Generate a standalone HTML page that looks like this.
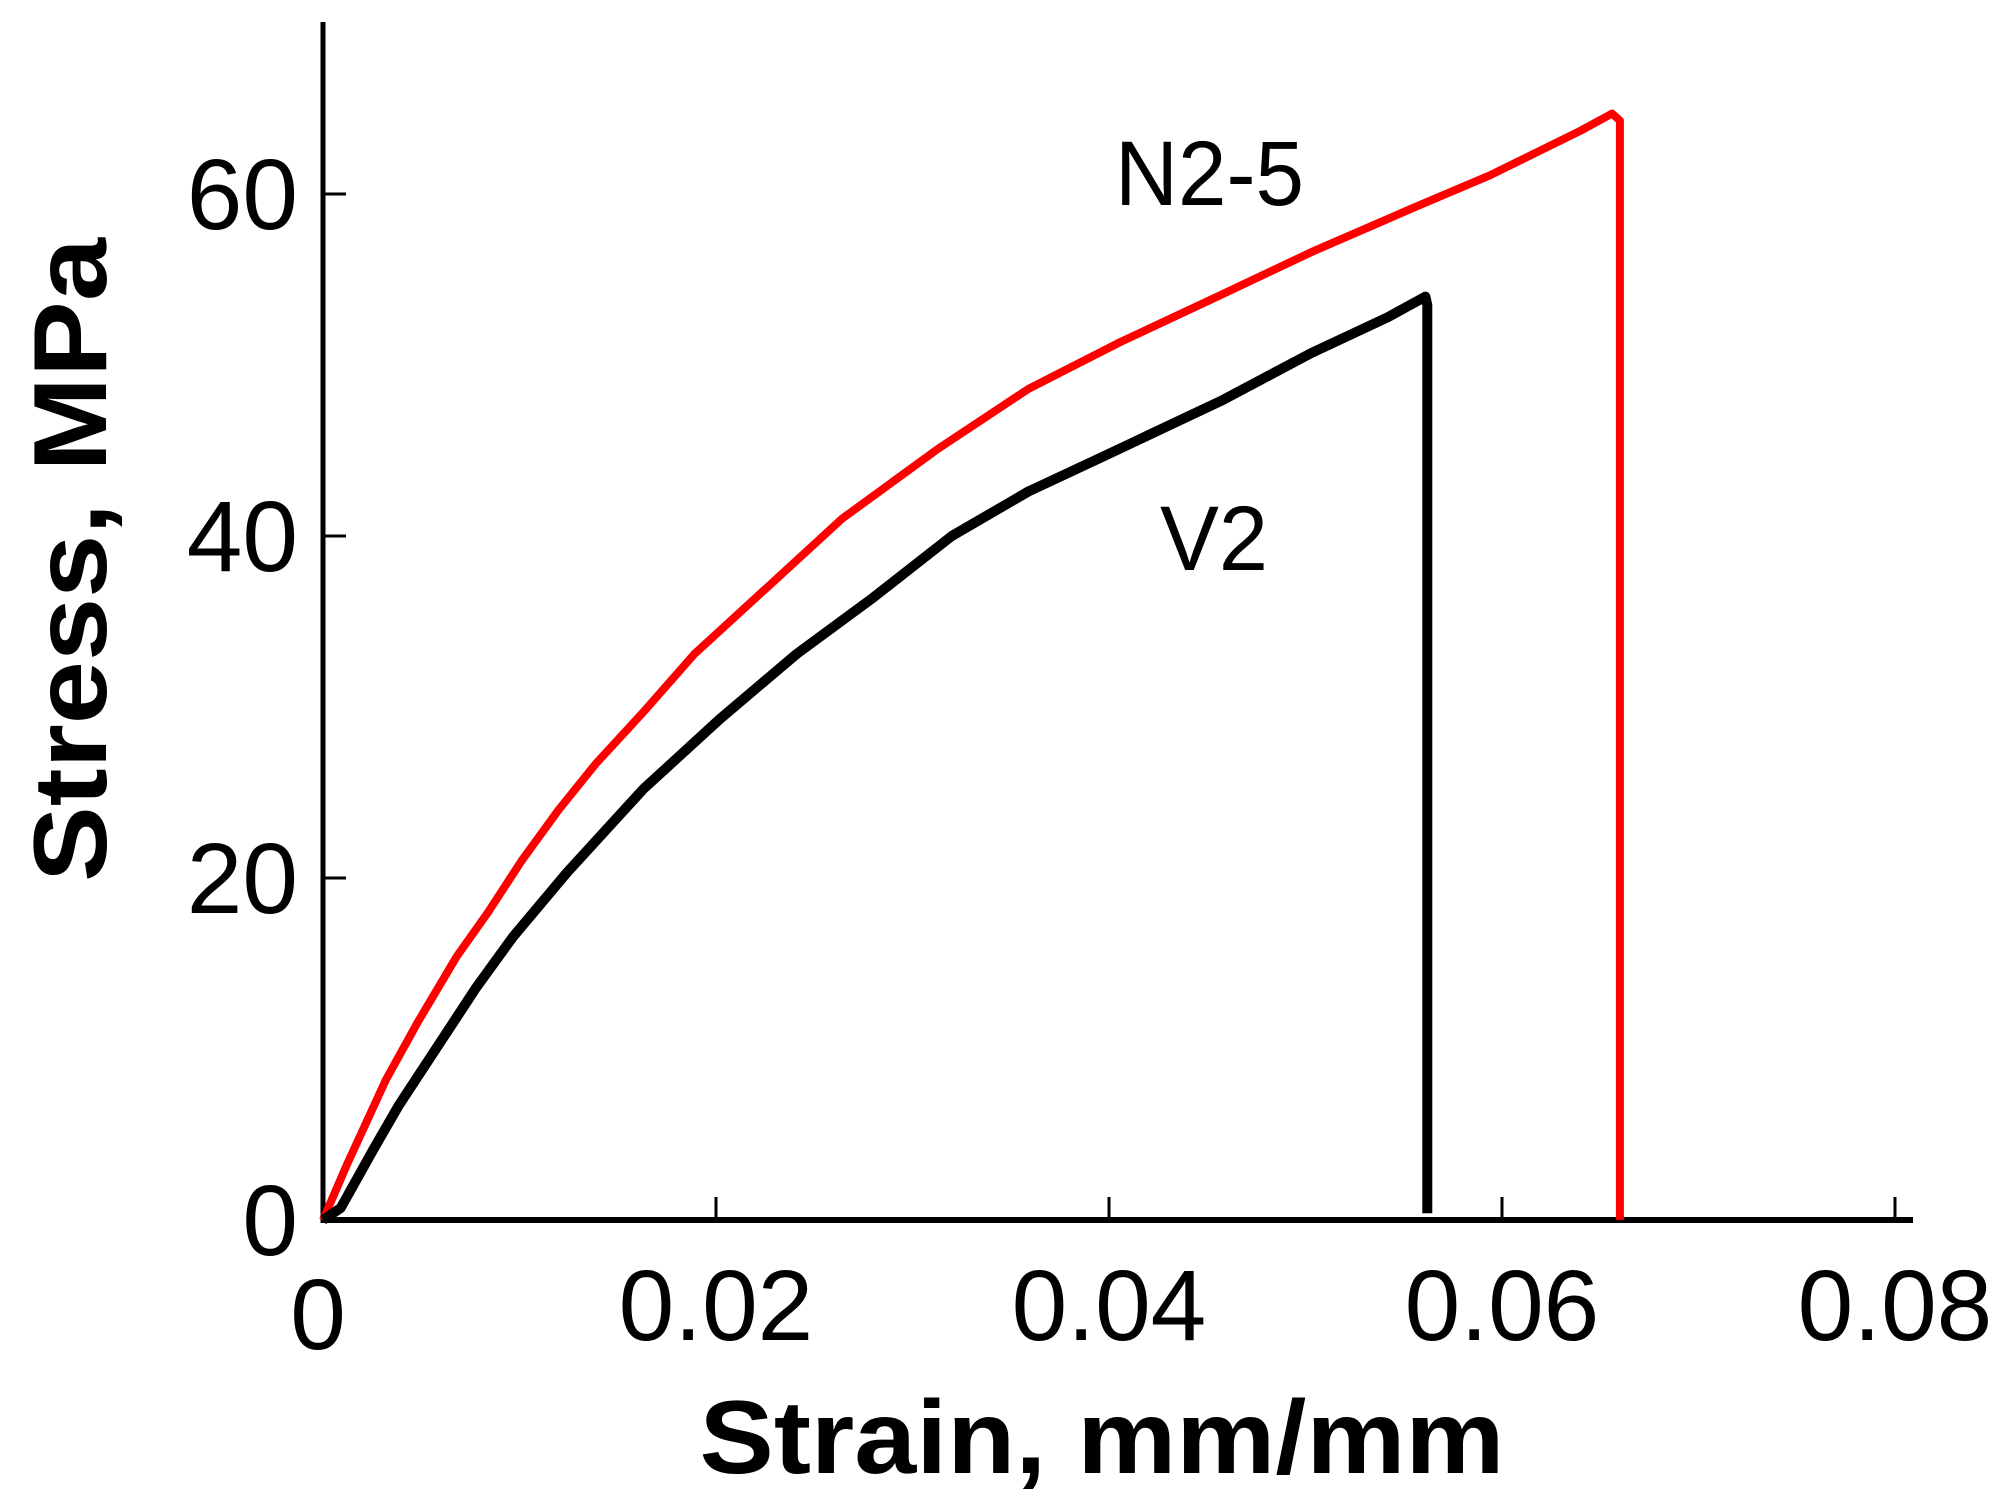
<!DOCTYPE html>
<html><head><meta charset="utf-8"><style>
html,body{margin:0;padding:0;background:#fff;}
svg{display:block;font-family:"Liberation Sans",Arial,sans-serif;}
</style></head><body>
<svg id="chart" width="2010" height="1495" viewBox="0 0 2010 1495">
<g id="axes"></g>
<g id="series"></g>
<text x="1115" y="205" font-size="92" textLength="189" lengthAdjust="spacingAndGlyphs">N2-5</text>
<text x="1160" y="570" font-size="92" textLength="108" lengthAdjust="spacingAndGlyphs">V2</text>
<text x="1102" y="1473" font-size="104" font-weight="bold" text-anchor="middle" textLength="805" lengthAdjust="spacingAndGlyphs">Strain, mm/mm</text>
<text transform="translate(106,560) rotate(-90)" font-size="104" font-weight="bold" text-anchor="middle" textLength="644" lengthAdjust="spacingAndGlyphs">Stress, MPa</text>
</svg>
<script>
const xTicks = [0, 0.02, 0.04, 0.06, 0.08];
const xTickLabels = ["0", "0.02", "0.04", "0.06", "0.08"];
const yTicks = [0, 20, 40, 60];
const yTickLabels = ["0", "20", "40", "60"];
const n25Strain = [0, 0.00124, 0.0032, 0.00484, 0.0068, 0.0084, 0.0101, 0.012, 0.0139, 0.0163, 0.0189, 0.0228, 0.0264, 0.0313, 0.0359, 0.0405, 0.0457, 0.0503, 0.0555, 0.0594, 0.064, 0.0656, 0.066, 0.066];
const n25Stress = [0, 3.3, 8.2, 11.6, 15.4, 18.0, 21.0, 24.0, 26.7, 29.7, 33.1, 37.2, 41.0, 45.1, 48.6, 51.3, 54.1, 56.6, 59.2, 61.1, 63.7, 64.7, 64.3, 0];
const v2Strain = [0, 0.0009, 0.00255, 0.00386, 0.0058, 0.0078, 0.0097, 0.0124, 0.0163, 0.0202, 0.0241, 0.028, 0.032, 0.0359, 0.0398, 0.0457, 0.0503, 0.0542, 0.0561, 0.0562, 0.0562];
const v2Stress = [0, 0.7, 4.1, 6.7, 10.1, 13.6, 16.6, 20.3, 25.2, 29.3, 33.1, 36.4, 40.0, 42.6, 44.7, 47.9, 50.7, 52.8, 54.0, 53.5, 0.4];

const X0 = 323, XS = 19650, Y0 = 1220, YS = 17.1;
function sx(v){ return X0 + v * XS; }
function sy(v){ return Y0 - v * YS; }
const NS = "http://www.w3.org/2000/svg";
const axes = document.getElementById('axes');
const series = document.getElementById('series');
function mk(tag, attrs, parent){
  const e = document.createElementNS(NS, tag);
  for (const k in attrs) e.setAttribute(k, attrs[k]);
  parent.appendChild(e);
  return e;
}
let yAx = mk('line', {x1:X0, y1:22, x2:X0, y2:Y0+3, stroke:'#000', 'stroke-width':5}, axes);


let xAx = mk('line', {x1:X0-2, y1:Y0, x2:1913, y2:Y0, stroke:'#000', 'stroke-width':6}, axes);


xTicks.forEach((t, i) => {
  if (i > 0) {
    let tk = mk('line', {x1:sx(t), y1:Y0, x2:sx(t), y2:Y0-23, stroke:'#000', 'stroke-width':3}, axes);
    
    
  }
  let lb = mk('text', {x:sx(t) + (i===0 ? -5 : 0), y: i===0 ? 1349 : 1340, 'font-size':100, 'text-anchor':'middle'}, axes);
  lb.textContent = xTickLabels[i];
  
  
});
yTicks.forEach((t, i) => {
  if (i > 0) {
    let tk = mk('line', {x1:X0, y1:sy(t), x2:X0+23, y2:sy(t), stroke:'#000', 'stroke-width':3}, axes);
    
    
  }
  let lb = mk('text', {x:298, y:sy(t)+35, 'font-size':100, 'text-anchor':'end'}, axes);
  lb.textContent = yTickLabels[i];
  
  
});
function pathFor(xs, ys){
  return xs.map((v, i) => (i ? 'L' : 'M') + sx(v).toFixed(1) + ',' + sy(ys[i]).toFixed(1)).join(' ');
}
let red = mk('path', {d:pathFor(n25Strain, n25Stress), fill:'none', stroke:'#ff0000', 'stroke-width':8, 'stroke-linejoin':'round'}, series);


let blk = mk('path', {d:pathFor(v2Strain, v2Stress), fill:'none', stroke:'#000', 'stroke-width':10, 'stroke-linejoin':'round'}, series);


</script>
</body></html>
